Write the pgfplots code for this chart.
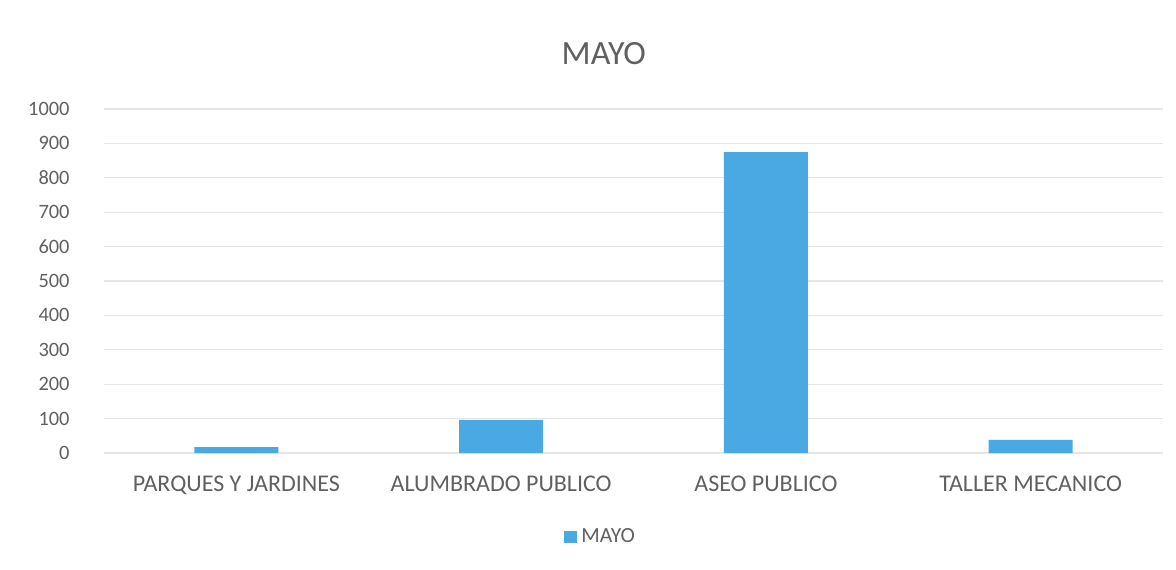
\documentclass[border=0pt]{standalone}
\usepackage{fontspec}
\setmainfont{Carlito}
\usepackage{pgfplots}
\pgfplotsset{compat=1.18}
\definecolor{barblue}{RGB}{74,168,226}
\definecolor{txtgray}{RGB}{96,96,96}
\definecolor{gridgray}{RGB}{229,229,229}
\begin{document}
\begin{tikzpicture}
\useasboundingbox (0,0) rectangle (588pt,284.5pt);
\begin{axis}[
    at={(52pt,58pt)}, anchor=south west,
    scale only axis,
    width=529.5pt, height=172pt,
    ybar, bar width=42pt,
    xmin=-0.5, xmax=3.5,
    ymin=0, ymax=1000,
    ytick distance=100,
    xtick=data,
    xticklabels={PARQUES Y JARDINES, ALUMBRADO PUBLICO, ASEO PUBLICO, TALLER MECANICO},
    axis line style={draw=none},
    major tick length=0pt,
    ymajorgrids,
    grid style={gridgray, line width=0.6pt},
    /pgf/number format/assume math mode=true,
    /pgf/number format/1000 sep={},
    xticklabel style={font=\fontsize{12}{14}\selectfont, text=txtgray, anchor=base, yshift=-19pt},
    yticklabel style={font=\fontsize{10.2}{12}\selectfont, text=txtgray, anchor=east, xshift=-13.7pt},
    title={MAYO},
    title style={font=\fontsize{17}{20}\selectfont, text=txtgray, at={(0.472,1)}, anchor=center, yshift=21.5pt},
    legend style={at={(0.470,-0.244)}, anchor=center, draw=none, fill=none,
        font=\fontsize{10.8}{12}\selectfont, text=txtgray},
    legend image code/.code={\fill[barblue] (0pt,-3.2pt) rectangle (6.5pt,3.2pt);},
]
\addplot[fill=barblue, draw=none] coordinates {(0,17) (1,96) (2,875) (3,38)};
\legend{MAYO}
\end{axis}
\end{tikzpicture}
\end{document}
